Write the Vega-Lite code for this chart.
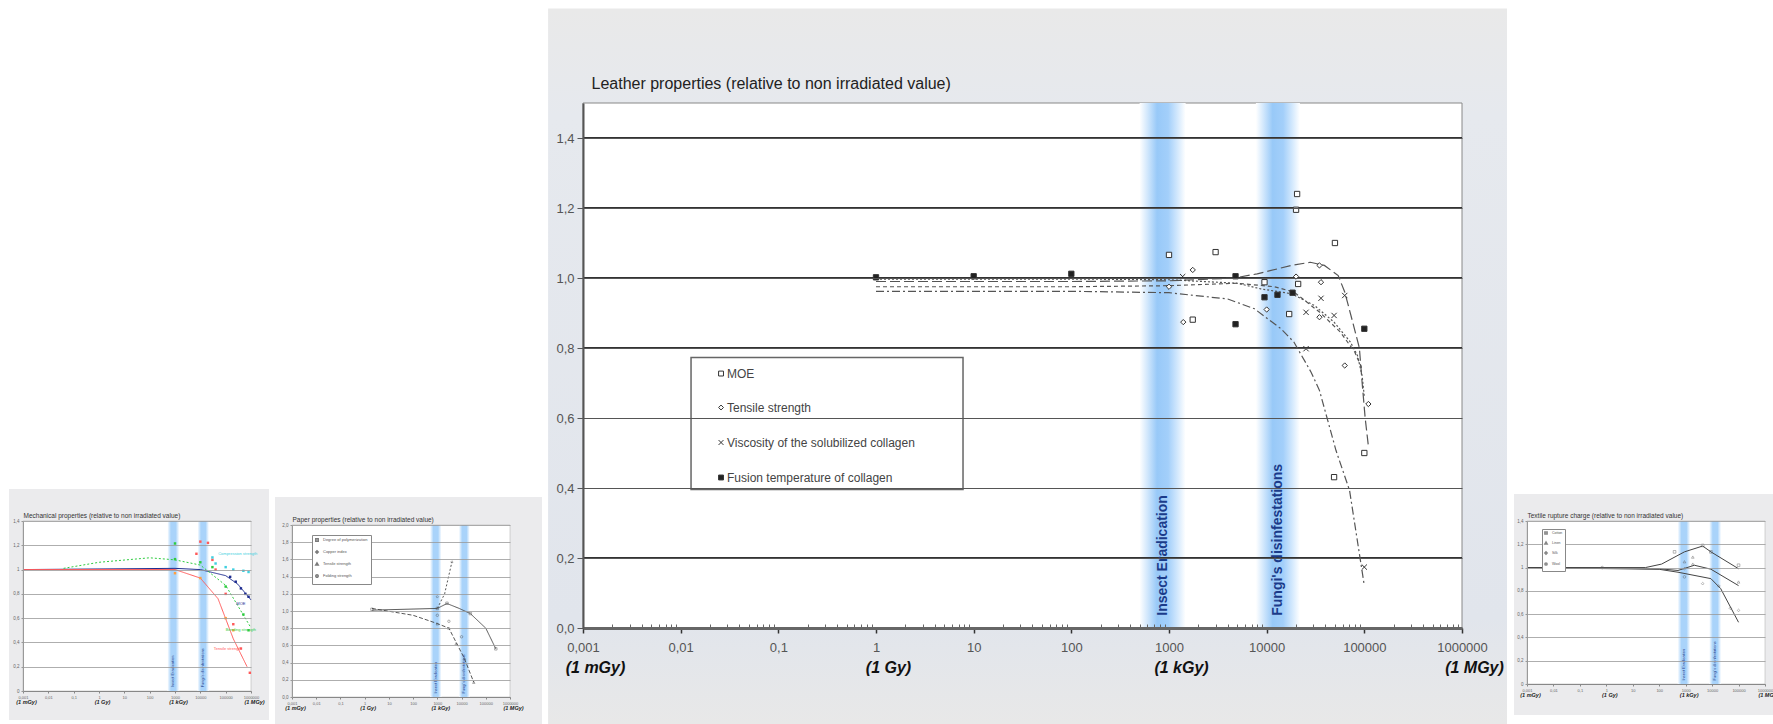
{
  "$schema": "https://vega.github.io/schema/vega-lite/v6.json",
  "background": "white",
  "padding": {"left": 8, "top": 8, "right": 0, "bottom": 0},
  "spacing": 5,
  "resolve": {
    "scale": {"color": "independent", "fill": "independent", "shape": "independent", "strokeDash": "independent"},
    "legend": {"color": "independent", "fill": "independent", "shape": "independent", "strokeDash": "independent"}
  },
  "config": {
    "view": {"stroke": null},
    "font": "Liberation Sans"
  },
  "datasets": {
    "bands": [
      {"zone": "Insect Eradication", "from": 500, "to": 1480, "center": 870},
      {"zone": "Fungi's disinfestations", "from": 7760, "to": 21900, "center": 13000}
    ],
    "thick": [{"v": 0.2}, {"v": 0.8}, {"v": 1.0}, {"v": 1.2}, {"v": 1.4}],
    "leatherLines": [
      {"series": "MOE", "dose": 1, "value": 0.99},
      {"series": "MOE", "dose": 100, "value": 0.99},
      {"series": "MOE", "dose": 1000, "value": 0.992},
      {"series": "MOE", "dose": 4700, "value": 1.0},
      {"series": "MOE", "dose": 8000, "value": 1.012},
      {"series": "MOE", "dose": 18000, "value": 1.036},
      {"series": "MOE", "dose": 28000, "value": 1.045},
      {"series": "MOE", "dose": 39000, "value": 1.036},
      {"series": "MOE", "dose": 54000, "value": 1.007},
      {"series": "MOE", "dose": 63000, "value": 0.96},
      {"series": "MOE", "dose": 76000, "value": 0.874},
      {"series": "MOE", "dose": 89000, "value": 0.8},
      {"series": "MOE", "dose": 95000, "value": 0.7},
      {"series": "MOE", "dose": 102000, "value": 0.6},
      {"series": "MOE", "dose": 110000, "value": 0.52},
      {"series": "Tensile strength", "dose": 1, "value": 0.997},
      {"series": "Tensile strength", "dose": 100, "value": 0.997},
      {"series": "Tensile strength", "dose": 1000, "value": 0.995},
      {"series": "Tensile strength", "dose": 5000, "value": 0.985},
      {"series": "Tensile strength", "dose": 8700, "value": 0.969},
      {"series": "Tensile strength", "dose": 18000, "value": 0.955},
      {"series": "Tensile strength", "dose": 31000, "value": 0.921},
      {"series": "Tensile strength", "dose": 49000, "value": 0.874},
      {"series": "Tensile strength", "dose": 72000, "value": 0.817},
      {"series": "Tensile strength", "dose": 85000, "value": 0.779},
      {"series": "Tensile strength", "dose": 95000, "value": 0.72},
      {"series": "Tensile strength", "dose": 100000, "value": 0.66},
      {"series": "Viscosity of the solubilized collagen", "dose": 1, "value": 0.962},
      {"series": "Viscosity of the solubilized collagen", "dose": 100, "value": 0.962},
      {"series": "Viscosity of the solubilized collagen", "dose": 1000, "value": 0.958},
      {"series": "Viscosity of the solubilized collagen", "dose": 4000, "value": 0.94},
      {"series": "Viscosity of the solubilized collagen", "dose": 7500, "value": 0.912},
      {"series": "Viscosity of the solubilized collagen", "dose": 14000, "value": 0.855},
      {"series": "Viscosity of the solubilized collagen", "dose": 19000, "value": 0.817},
      {"series": "Viscosity of the solubilized collagen", "dose": 28500, "value": 0.731},
      {"series": "Viscosity of the solubilized collagen", "dose": 34700, "value": 0.679},
      {"series": "Viscosity of the solubilized collagen", "dose": 51300, "value": 0.507},
      {"series": "Viscosity of the solubilized collagen", "dose": 70600, "value": 0.393},
      {"series": "Viscosity of the solubilized collagen", "dose": 89000, "value": 0.212},
      {"series": "Viscosity of the solubilized collagen", "dose": 100000, "value": 0.121},
      {"series": "Fusion temperature of collagen", "dose": 1, "value": 0.975},
      {"series": "Fusion temperature of collagen", "dose": 100, "value": 0.975},
      {"series": "Fusion temperature of collagen", "dose": 1000, "value": 0.978},
      {"series": "Fusion temperature of collagen", "dose": 5000, "value": 0.985},
      {"series": "Fusion temperature of collagen", "dose": 12000, "value": 0.975},
      {"series": "Fusion temperature of collagen", "dose": 19000, "value": 0.96},
      {"series": "Fusion temperature of collagen", "dose": 35000, "value": 0.902},
      {"series": "Fusion temperature of collagen", "dose": 57000, "value": 0.845},
      {"series": "Fusion temperature of collagen", "dose": 80000, "value": 0.788},
      {"series": "Fusion temperature of collagen", "dose": 95000, "value": 0.74}
    ],
    "leatherPoints": [
      {"series": "Fusion temperature of collagen", "dose": 1, "value": 1.002},
      {"series": "Fusion temperature of collagen", "dose": 10, "value": 1.005},
      {"series": "Fusion temperature of collagen", "dose": 100, "value": 1.012},
      {"series": "Fusion temperature of collagen", "dose": 4800, "value": 1.005},
      {"series": "Fusion temperature of collagen", "dose": 4800, "value": 0.868},
      {"series": "Fusion temperature of collagen", "dose": 9500, "value": 0.945},
      {"series": "Fusion temperature of collagen", "dose": 12900, "value": 0.952},
      {"series": "Fusion temperature of collagen", "dose": 18400, "value": 0.958},
      {"series": "Fusion temperature of collagen", "dose": 100000, "value": 0.855},
      {"series": "MOE", "dose": 1000, "value": 1.066},
      {"series": "MOE", "dose": 3000, "value": 1.074},
      {"series": "MOE", "dose": 20500, "value": 1.24},
      {"series": "MOE", "dose": 20000, "value": 1.195},
      {"series": "MOE", "dose": 50000, "value": 1.1},
      {"series": "MOE", "dose": 17000, "value": 0.897},
      {"series": "MOE", "dose": 9500, "value": 0.988},
      {"series": "MOE", "dose": 21000, "value": 0.983},
      {"series": "MOE", "dose": 1750, "value": 0.881},
      {"series": "MOE", "dose": 100000, "value": 0.5},
      {"series": "MOE", "dose": 49000, "value": 0.431},
      {"series": "Tensile strength", "dose": 1750, "value": 1.023},
      {"series": "Tensile strength", "dose": 1400, "value": 0.874},
      {"series": "Tensile strength", "dose": 20000, "value": 1.004},
      {"series": "Tensile strength", "dose": 36000, "value": 0.988},
      {"series": "Tensile strength", "dose": 34700, "value": 1.036},
      {"series": "Tensile strength", "dose": 10000, "value": 0.91},
      {"series": "Tensile strength", "dose": 34700, "value": 0.888},
      {"series": "Tensile strength", "dose": 1000, "value": 0.975},
      {"series": "Tensile strength", "dose": 63000, "value": 0.75},
      {"series": "Tensile strength", "dose": 110000, "value": 0.64},
      {"series": "Viscosity of the solubilized collagen", "dose": 25300, "value": 0.902},
      {"series": "Viscosity of the solubilized collagen", "dose": 49000, "value": 0.893},
      {"series": "Viscosity of the solubilized collagen", "dose": 25300, "value": 0.798},
      {"series": "Viscosity of the solubilized collagen", "dose": 63000, "value": 0.95},
      {"series": "Viscosity of the solubilized collagen", "dose": 100000, "value": 0.174},
      {"series": "Viscosity of the solubilized collagen", "dose": 36000, "value": 0.942},
      {"series": "Viscosity of the solubilized collagen", "dose": 1380, "value": 1.004}
    ],
    "mechLines": [
      {"series": "MOE", "dose": 0.001, "value": 1.0},
      {"series": "MOE", "dose": 1000, "value": 1.01},
      {"series": "MOE", "dose": 10000, "value": 1.0},
      {"series": "MOE", "dose": 100000, "value": 0.95},
      {"series": "MOE", "dose": 300000, "value": 0.88},
      {"series": "MOE", "dose": 1000000, "value": 0.75},
      {"series": "Bending strength", "dose": 0.04, "value": 1.01},
      {"series": "Bending strength", "dose": 1, "value": 1.06},
      {"series": "Bending strength", "dose": 100, "value": 1.097},
      {"series": "Bending strength", "dose": 1000, "value": 1.08},
      {"series": "Bending strength", "dose": 10000, "value": 1.037},
      {"series": "Bending strength", "dose": 100000, "value": 0.87},
      {"series": "Bending strength", "dose": 1000000, "value": 0.52},
      {"series": "Tensile strength", "dose": 0.001, "value": 1.0},
      {"series": "Tensile strength", "dose": 1000, "value": 1.0},
      {"series": "Tensile strength", "dose": 10000, "value": 0.93},
      {"series": "Tensile strength", "dose": 50000, "value": 0.76},
      {"series": "Tensile strength", "dose": 200000, "value": 0.43},
      {"series": "Tensile strength", "dose": 700000, "value": 0.2}
    ],
    "mechPoints": [
      {"series": "Bending strength", "dose": 1000, "value": 1.215},
      {"series": "Bending strength", "dose": 1000, "value": 1.086},
      {"series": "Bending strength", "dose": 10000, "value": 1.06},
      {"series": "Bending strength", "dose": 30000, "value": 1.02},
      {"series": "Bending strength", "dose": 100000, "value": 0.86},
      {"series": "Bending strength", "dose": 500000, "value": 0.63},
      {"series": "Bending strength", "dose": 800000, "value": 0.5},
      {"series": "Tensile strength", "dose": 10000, "value": 1.23},
      {"series": "Tensile strength", "dose": 20000, "value": 1.22},
      {"series": "Tensile strength", "dose": 7000, "value": 1.13},
      {"series": "Tensile strength", "dose": 30000, "value": 1.08},
      {"series": "Tensile strength", "dose": 40000, "value": 1.0},
      {"series": "Tensile strength", "dose": 100000, "value": 0.8},
      {"series": "Tensile strength", "dose": 200000, "value": 0.55},
      {"series": "Tensile strength", "dose": 400000, "value": 0.35},
      {"series": "Tensile strength", "dose": 900000, "value": 0.15},
      {"series": "Compression strength", "dose": 30000, "value": 1.1},
      {"series": "Compression strength", "dose": 40000, "value": 1.05},
      {"series": "Compression strength", "dose": 100000, "value": 1.02},
      {"series": "Compression strength", "dose": 200000, "value": 1.0},
      {"series": "Compression strength", "dose": 500000, "value": 0.99},
      {"series": "Compression strength", "dose": 800000, "value": 0.98},
      {"series": "MOE", "dose": 150000, "value": 0.94},
      {"series": "MOE", "dose": 250000, "value": 0.9},
      {"series": "MOE", "dose": 400000, "value": 0.845},
      {"series": "MOE", "dose": 600000, "value": 0.8},
      {"series": "MOE", "dose": 800000, "value": 0.776},
      {"series": "Other", "dose": 1000, "value": 0.97},
      {"series": "Other", "dose": 10000, "value": 0.93},
      {"series": "Other", "dose": 100000, "value": 0.6},
      {"series": "Other", "dose": 200000, "value": 0.5}
    ],
    "mechLabels": [
      {"series": "Compression strength", "dose": 300000, "value": 1.13, "label": "Compression strength"},
      {"series": "MOE", "dose": 400000, "value": 0.72, "label": "MOE"},
      {"series": "Bending strength", "dose": 400000, "value": 0.5, "label": "Bending strength"},
      {"series": "Tensile strength", "dose": 120000, "value": 0.35, "label": "Tensile strength"}
    ],
    "paperLines": [
      {"series": "Degree of polymerization", "dose": 2, "value": 1.01},
      {"series": "Degree of polymerization", "dose": 1000, "value": 1.03},
      {"series": "Degree of polymerization", "dose": 2500, "value": 1.087},
      {"series": "Degree of polymerization", "dose": 8000, "value": 1.03},
      {"series": "Degree of polymerization", "dose": 23000, "value": 0.97},
      {"series": "Degree of polymerization", "dose": 100000, "value": 0.8},
      {"series": "Degree of polymerization", "dose": 260000, "value": 0.56},
      {"series": "Copper index", "dose": 1000, "value": 1.03},
      {"series": "Copper index", "dose": 2000, "value": 1.2},
      {"series": "Copper index", "dose": 4000, "value": 1.57},
      {"series": "Tensile strength", "dose": 2, "value": 1.03},
      {"series": "Tensile strength", "dose": 100, "value": 0.95},
      {"series": "Tensile strength", "dose": 1000, "value": 0.854},
      {"series": "Tensile strength", "dose": 3000, "value": 0.8},
      {"series": "Tensile strength", "dose": 13000, "value": 0.45},
      {"series": "Tensile strength", "dose": 32000, "value": 0.17}
    ],
    "paperPoints": [
      {"series": "Degree of polymerization", "dose": 2, "value": 1.02},
      {"series": "Degree of polymerization", "dose": 1000, "value": 1.03},
      {"series": "Degree of polymerization", "dose": 2500, "value": 1.09},
      {"series": "Degree of polymerization", "dose": 23000, "value": 0.97},
      {"series": "Degree of polymerization", "dose": 260000, "value": 0.56},
      {"series": "Copper index", "dose": 1000, "value": 1.165},
      {"series": "Copper index", "dose": 4000, "value": 1.57},
      {"series": "Tensile strength", "dose": 1000, "value": 0.85},
      {"series": "Tensile strength", "dose": 3000, "value": 0.8},
      {"series": "Tensile strength", "dose": 6000, "value": 0.62},
      {"series": "Tensile strength", "dose": 13000, "value": 0.45},
      {"series": "Tensile strength", "dose": 32000, "value": 0.17},
      {"series": "Folding strength", "dose": 1000, "value": 0.95},
      {"series": "Folding strength", "dose": 3000, "value": 0.88},
      {"series": "Folding strength", "dose": 10000, "value": 0.7}
    ],
    "texLines": [
      {"series": "Cotton", "dose": 0.001, "value": 1.0},
      {"series": "Cotton", "dose": 30, "value": 1.0},
      {"series": "Cotton", "dose": 123, "value": 1.03},
      {"series": "Cotton", "dose": 900, "value": 1.135},
      {"series": "Cotton", "dose": 4400, "value": 1.185},
      {"series": "Cotton", "dose": 9000, "value": 1.135},
      {"series": "Cotton", "dose": 100000, "value": 0.99},
      {"series": "Linen", "dose": 0.001, "value": 1.0},
      {"series": "Linen", "dose": 100, "value": 0.99},
      {"series": "Linen", "dose": 513, "value": 0.975},
      {"series": "Linen", "dose": 2140, "value": 1.02},
      {"series": "Linen", "dose": 9000, "value": 0.986},
      {"series": "Linen", "dose": 100000, "value": 0.845},
      {"series": "Silk", "dose": 0.001, "value": 1.0},
      {"series": "Silk", "dose": 100, "value": 0.985},
      {"series": "Silk", "dose": 513, "value": 0.96},
      {"series": "Silk", "dose": 9000, "value": 0.905},
      {"series": "Silk", "dose": 21000, "value": 0.82},
      {"series": "Silk", "dose": 100000, "value": 0.53}
    ],
    "texPoints": [
      {"series": "Cotton", "dose": 380, "value": 1.135},
      {"series": "Cotton", "dose": 4400, "value": 1.19},
      {"series": "Cotton", "dose": 9000, "value": 1.135},
      {"series": "Cotton", "dose": 100000, "value": 1.02},
      {"series": "Linen", "dose": 900, "value": 1.05},
      {"series": "Linen", "dose": 1860, "value": 1.09},
      {"series": "Linen", "dose": 1860, "value": 1.03},
      {"series": "Linen", "dose": 100000, "value": 0.876},
      {"series": "Silk", "dose": 900, "value": 0.99},
      {"series": "Silk", "dose": 4400, "value": 0.862},
      {"series": "Silk", "dose": 18000, "value": 0.842},
      {"series": "Silk", "dose": 49000, "value": 0.65},
      {"series": "Silk", "dose": 100000, "value": 0.632},
      {"series": "Wool", "dose": 900, "value": 0.92},
      {"series": "Wool", "dose": 0.7, "value": 1.0}
    ]
  },
  "hconcat": [
    {
      "spacing": 0,
      "resolve": {"scale": {"color": "independent", "fill": "independent", "shape": "independent", "strokeDash": "independent"}, "legend": {"color": "independent", "fill": "independent", "shape": "independent", "strokeDash": "independent"}},
      "vconcat": [
        {"width": 10, "height": 385, "data": {"values": [{"t": ""}]}, "mark": "text", "encoding": {"text": {"field": "t"}}},
        {
          "width": 228, "height": 170,
          "layer": [
            {"data": {"values": [{"panel": "frame"}]}, "mark": {"type": "rect", "fill": "#ebebed"},
             "encoding": {"x": {"datum": 0.00028, "type": "quantitative", "scale": {"type": "log", "domain": [0.001, 1000000], "nice": false}, "axis": null}, "x2": {"datum": 5140000}, "y": {"datum": -0.239, "type": "quantitative", "scale": {"domain": [0, 1.4], "nice": false, "zero": false}, "axis": null}, "y2": {"datum": 1.664}}},
            {"data": {"values": [{"panel": "plot"}]}, "mark": {"type": "rect", "fill": "white", "stroke": "#aaa", "strokeWidth": 0.5},
             "encoding": {"x": {"datum": 0.001, "type": "quantitative", "scale": {"type": "log", "domain": [0.001, 1000000], "nice": false},
               "axis": {"orient": "bottom", "zindex": 1, "values": [0.001, 0.01, 0.1, 1, 10, 100, 1000, 10000, 100000, 1000000], "labelExpr": "datum.value == 0.001 ? '0,001' : datum.value == 0.01 ? '0,01' : datum.value == 0.1 ? '0,1' : format(datum.value, 'd')", "title": null, "grid": false, "domainColor": "#888", "domainWidth": 1, "tickSize": 2, "tickColor": "#888", "labelFontSize": 4, "labelColor": "#666", "labelPadding": 2, "labelFlush": false, "labelOverlap": false}},
               "x2": {"datum": 1000000},
               "y": {"datum": 0, "type": "quantitative", "scale": {"domain": [0, 1.4], "nice": false, "zero": false},
               "axis": {"orient": "left", "zindex": 1, "values": [0, 0.2, 0.4, 0.6, 0.8, 1, 1.2, 1.4], "labelExpr": "replace(format(datum.value, '~g'), '.', ',')", "title": null, "grid": true, "gridColor": "#999", "gridWidth": 0.8, "domainColor": "#999", "tickSize": 2, "tickColor": "#999", "labelFontSize": 4.5, "labelColor": "#666", "labelPadding": 2}},
               "y2": {"datum": 1.4}}},
            {"data": {"name": "bands"}, "mark": {"type": "rect", "fill": {"gradient": "linear", "x1": 0, "y1": 0, "x2": 1, "y2": 0, "stops": [{"offset": 0, "color": "#ffffff"}, {"offset": 0.3, "color": "#a9d3fa"}, {"offset": 0.7, "color": "#a9d3fa"}, {"offset": 1, "color": "#ffffff"}]}},
             "encoding": {"x": {"field": "from", "type": "quantitative", "scale": {"type": "log", "domain": [0.001, 1000000], "nice": false}, "axis": null}, "x2": {"field": "to"}, "y": {"datum": 0, "type": "quantitative", "scale": {"domain": [0, 1.4], "nice": false, "zero": false}, "axis": null}, "y2": {"datum": 1.4}}},
            {"data": {"name": "mechLines"}, "mark": {"type": "line", "strokeWidth": 1},
             "encoding": {"x": {"field": "dose", "type": "quantitative", "scale": {"type": "log", "domain": [0.001, 1000000], "nice": false},
               "axis": {"orient": "top", "zindex": 1, "labels": false, "ticks": false, "domain": false, "grid": false, "title": "Mechanical properties (relative to non irradiated value)", "titleAnchor": "start", "titleAlign": "left", "titleFontSize": 6.5, "titleFontWeight": "normal", "titleColor": "#333", "titlePadding": 3}},
               "y": {"field": "value", "type": "quantitative", "scale": {"domain": [0, 1.4], "nice": false, "zero": false}, "axis": null},
               "color": {"field": "series", "type": "nominal", "scale": {"domain": ["MOE", "Bending strength", "Tensile strength", "Compression strength", "Other"], "range": ["#1c2b8f", "#2ecc40", "#ff5a5a", "#40d0e0", "#ff9f40"]}, "legend": null},
               "strokeDash": {"field": "series", "type": "nominal", "scale": {"domain": ["MOE", "Bending strength", "Tensile strength"], "range": [[1, 0], [2, 2], [1, 0]]}, "legend": null}}},
            {"data": {"name": "mechPoints"}, "mark": {"type": "square", "size": 6, "opacity": 1},
             "encoding": {"x": {"field": "dose", "type": "quantitative", "scale": {"type": "log", "domain": [0.001, 1000000], "nice": false}, "axis": null}, "y": {"field": "value", "type": "quantitative", "scale": {"domain": [0, 1.4], "nice": false, "zero": false}, "axis": null},
               "color": {"field": "series", "type": "nominal", "scale": {"domain": ["MOE", "Bending strength", "Tensile strength", "Compression strength", "Other"], "range": ["#1c2b8f", "#2ecc40", "#ff5a5a", "#40d0e0", "#ff9f40"]}, "legend": null}}},
            {"data": {"name": "mechLabels"}, "mark": {"type": "text", "fontSize": 4, "align": "center"},
             "encoding": {"x": {"field": "dose", "type": "quantitative", "scale": {"type": "log", "domain": [0.001, 1000000], "nice": false}, "axis": null}, "y": {"field": "value", "type": "quantitative", "scale": {"domain": [0, 1.4], "nice": false, "zero": false}, "axis": null}, "text": {"field": "label"},
               "color": {"field": "series", "type": "nominal", "scale": {"domain": ["MOE", "Bending strength", "Tensile strength", "Compression strength", "Other"], "range": ["#1c2b8f", "#2ecc40", "#ff5a5a", "#40d0e0", "#ff9f40"]}, "legend": null}}},
            {"data": {"name": "bands"}, "mark": {"type": "text", "angle": 270, "align": "left", "baseline": "middle", "fontSize": 4, "color": "#1b3b8a"},
             "encoding": {"x": {"field": "center", "type": "quantitative", "scale": {"type": "log", "domain": [0.001, 1000000], "nice": false},
               "axis": {"orient": "bottom", "zindex": 1, "values": [0.001, 1, 1000, 1000000], "labelExpr": "datum.value == 0.001 ? '(1 mGy)' : datum.value == 1 ? '(1 Gy)' : datum.value == 1000 ? '(1 kGy)' : '(1 MGy)'", "title": null, "domain": false, "ticks": false, "tickSize": 0, "grid": false, "labelFontSize": 5.5, "labelFontWeight": "bold", "labelFontStyle": "italic", "labelColor": "#222", "labelPadding": 8, "labelOffset": 3, "labelFlush": false, "labelOverlap": false}},
               "y": {"datum": 0.03, "type": "quantitative", "scale": {"domain": [0, 1.4], "nice": false, "zero": false}, "axis": null}, "text": {"field": "zone"}}}
          ],
          "resolve": {"axis": {"x": "independent", "y": "independent"}}
        }
      ]
    },
    {
      "spacing": 0,
      "resolve": {"scale": {"color": "independent", "fill": "independent", "shape": "independent", "strokeDash": "independent"}, "legend": {"color": "independent", "fill": "independent", "shape": "independent", "strokeDash": "independent"}},
      "vconcat": [
        {"width": 10, "height": 393, "data": {"values": [{"t": ""}]}, "mark": "text", "encoding": {"text": {"field": "t"}}},
        {
          "width": 218, "height": 172,
          "layer": [
            {"data": {"values": [{"panel": "frame"}]}, "mark": {"type": "rect", "fill": "#ebebed"},
             "encoding": {"x": {"datum": 0.000199, "type": "quantitative", "scale": {"type": "log", "domain": [0.001, 1000000], "nice": false}, "axis": null}, "x2": {"datum": 21000000}, "y": {"datum": -0.337, "type": "quantitative", "scale": {"domain": [0, 2], "nice": false, "zero": false}, "axis": null}, "y2": {"datum": 2.326}}},
            {"data": {"values": [{"panel": "plot"}]}, "mark": {"type": "rect", "fill": "white", "stroke": "#aaa", "strokeWidth": 0.5},
             "encoding": {"x": {"datum": 0.001, "type": "quantitative", "scale": {"type": "log", "domain": [0.001, 1000000], "nice": false},
               "axis": {"orient": "bottom", "zindex": 1, "values": [0.001, 0.01, 0.1, 1, 10, 100, 1000, 10000, 100000, 1000000], "labelExpr": "datum.value == 0.001 ? '0,001' : datum.value == 0.01 ? '0,01' : datum.value == 0.1 ? '0,1' : format(datum.value, 'd')", "title": null, "grid": false, "domainColor": "#888", "domainWidth": 1, "tickSize": 2, "tickColor": "#888", "labelFontSize": 4, "labelColor": "#666", "labelPadding": 2, "labelFlush": false, "labelOverlap": false}},
               "x2": {"datum": 1000000},
               "y": {"datum": 0, "type": "quantitative", "scale": {"domain": [0, 2], "nice": false, "zero": false},
               "axis": {"orient": "left", "zindex": 1, "values": [0, 0.2, 0.4, 0.6, 0.8, 1, 1.2, 1.4, 1.6, 1.8, 2], "labelExpr": "replace(format(datum.value, '.1f'), '.', ',')", "title": null, "grid": true, "gridColor": "#999", "gridWidth": 0.8, "domainColor": "#999", "tickSize": 2, "tickColor": "#999", "labelFontSize": 4.5, "labelColor": "#666", "labelPadding": 2}},
               "y2": {"datum": 2}}},
            {"data": {"name": "bands"}, "mark": {"type": "rect", "fill": {"gradient": "linear", "x1": 0, "y1": 0, "x2": 1, "y2": 0, "stops": [{"offset": 0, "color": "#ffffff"}, {"offset": 0.3, "color": "#a9d3fa"}, {"offset": 0.7, "color": "#a9d3fa"}, {"offset": 1, "color": "#ffffff"}]}},
             "encoding": {"x": {"field": "from", "type": "quantitative", "scale": {"type": "log", "domain": [0.001, 1000000], "nice": false}, "axis": null}, "x2": {"field": "to"}, "y": {"datum": 0, "type": "quantitative", "scale": {"domain": [0, 2], "nice": false, "zero": false}, "axis": null}, "y2": {"datum": 2}}},
            {"data": {"name": "paperLines"}, "mark": {"type": "line", "strokeWidth": 0.9, "color": "#444"},
             "encoding": {"x": {"field": "dose", "type": "quantitative", "scale": {"type": "log", "domain": [0.001, 1000000], "nice": false},
               "axis": {"orient": "top", "zindex": 1, "labels": false, "ticks": false, "domain": false, "grid": false, "title": "Paper properties (relative to non irradiated value)", "titleAnchor": "start", "titleAlign": "left", "titleFontSize": 6.5, "titleFontWeight": "normal", "titleColor": "#333", "titlePadding": 3}},
               "y": {"field": "value", "type": "quantitative", "scale": {"domain": [0, 2], "nice": false, "zero": false}, "axis": null},
               "strokeDash": {"field": "series", "type": "nominal", "scale": {"domain": ["Degree of polymerization", "Copper index", "Tensile strength"], "range": [[1, 0], [2, 2], [4, 2]]}, "legend": null}}},
            {"data": {"name": "paperPoints"}, "mark": {"type": "point", "size": 6, "stroke": "#444", "strokeWidth": 0.6, "filled": false},
             "encoding": {"x": {"field": "dose", "type": "quantitative", "scale": {"type": "log", "domain": [0.001, 1000000], "nice": false}, "axis": null}, "y": {"field": "value", "type": "quantitative", "scale": {"domain": [0, 2], "nice": false, "zero": false}, "axis": null},
               "shape": {"field": "series", "type": "nominal", "scale": {"domain": ["Degree of polymerization", "Copper index", "Tensile strength", "Folding strength"], "range": ["square", "diamond", "triangle-up", "circle"]},
                 "legend": {"title": null, "orient": "none", "zindex": 1, "legendX": 20, "legendY": 10, "fillColor": "white", "strokeColor": "#888", "padding": 3, "rowPadding": 2, "labelFontSize": 4, "labelColor": "#555", "symbolSize": 6, "symbolStrokeColor": "#444"}}}},
            {"data": {"name": "bands"}, "mark": {"type": "text", "angle": 270, "align": "left", "baseline": "middle", "fontSize": 4, "color": "#1b3b8a"},
             "encoding": {"x": {"field": "center", "type": "quantitative", "scale": {"type": "log", "domain": [0.001, 1000000], "nice": false},
               "axis": {"orient": "bottom", "zindex": 1, "values": [0.001, 1, 1000, 1000000], "labelExpr": "datum.value == 0.001 ? '(1 mGy)' : datum.value == 1 ? '(1 Gy)' : datum.value == 1000 ? '(1 kGy)' : '(1 MGy)'", "title": null, "domain": false, "ticks": false, "tickSize": 0, "grid": false, "labelFontSize": 5.5, "labelFontWeight": "bold", "labelFontStyle": "italic", "labelColor": "#222", "labelPadding": 8, "labelOffset": 3, "labelFlush": false, "labelOverlap": false}},
               "y": {"datum": 0.04, "type": "quantitative", "scale": {"domain": [0, 2], "nice": false, "zero": false}, "axis": null}, "text": {"field": "zone"}}}
          ],
          "resolve": {"axis": {"x": "independent", "y": "independent"}}
        }
      ]
    },
    {
      "width": 879, "height": 525,
      "layer": [
        {"data": {"values": [{"panel": "frame"}]},
         "mark": {"type": "rect", "fill": {"gradient": "linear", "x1": 0, "y1": 0, "x2": 0, "y2": 1, "stops": [{"offset": 0, "color": "#e9e9e9"}, {"offset": 0.15, "color": "#e6e9ee"}, {"offset": 0.85, "color": "#e1e5ec"}, {"offset": 1, "color": "#e8e8e8"}]}},
         "encoding": {"x": {"datum": 0.000439, "type": "quantitative", "scale": {"type": "log", "domain": [0.001, 1000000], "nice": false}, "axis": null}, "x2": {"datum": 2890000}, "y": {"datum": -0.276, "type": "quantitative", "scale": {"domain": [0, 1.5], "nice": false, "zero": false}, "axis": null}, "y2": {"datum": 1.77}}},
        {"data": {"values": [{"panel": "plot"}]},
         "mark": {"type": "rect", "fill": "white", "stroke": "#888", "strokeWidth": 1},
         "encoding": {
           "x": {"datum": 0.001, "type": "quantitative", "scale": {"type": "log", "domain": [0.001, 1000000], "nice": false},
             "axis": {"orient": "bottom", "zindex": 1, "values": [0.001, 0.01, 0.1, 1, 10, 100, 1000, 10000, 100000, 1000000], "labelExpr": "datum.value == 0.001 ? '0,001' : datum.value == 0.01 ? '0,01' : datum.value == 0.1 ? '0,1' : format(datum.value, 'd')", "title": null, "grid": false, "domain": true, "domainColor": "#666", "domainWidth": 3, "ticks": true, "tickSize": 5, "tickColor": "#333", "tickWidth": 1.5, "labelFontSize": 13, "labelColor": "#555", "labelPadding": 8, "labelFlush": false, "labelOverlap": false}},
           "x2": {"datum": 1000000},
           "y": {"datum": 0, "type": "quantitative", "scale": {"domain": [0, 1.5], "nice": false, "zero": false},
             "axis": {"orient": "left", "zindex": 1, "values": [0, 0.2, 0.4, 0.6, 0.8, 1, 1.2, 1.4], "labelExpr": "replace(format(datum.value, '.1f'), '.', ',')", "title": null, "grid": true, "gridColor": "#555", "gridWidth": 1, "domain": true, "domainColor": "#555", "domainWidth": 2, "tickSize": 6, "tickColor": "#555", "labelFontSize": 13, "labelColor": "#555", "labelPadding": 3}},
           "y2": {"datum": 1.5}}},
        {"data": {"name": "bands"},
         "mark": {"type": "rect", "fill": {"gradient": "linear", "x1": 0, "y1": 0, "x2": 1, "y2": 0, "stops": [{"offset": 0, "color": "#ffffff"}, {"offset": 0.18, "color": "#cfe6fc"}, {"offset": 0.38, "color": "#98c9f8"}, {"offset": 0.62, "color": "#a3cffa"}, {"offset": 0.82, "color": "#d2e8fd"}, {"offset": 1, "color": "#ffffff"}]}},
         "encoding": {
           "x": {"field": "from", "type": "quantitative", "scale": {"type": "log", "domain": [0.001, 1000000], "nice": false},
             "axis": {"orient": "bottom", "zindex": 1, "values": [0.002, 0.003, 0.004, 0.005, 0.006, 0.007, 0.008, 0.009, 0.02, 0.03, 0.04, 0.05, 0.06, 0.07, 0.08, 0.09, 0.2, 0.3, 0.4, 0.5, 0.6, 0.7, 0.8, 0.9, 2, 3, 4, 5, 6, 7, 8, 9, 20, 30, 40, 50, 60, 70, 80, 90, 200, 300, 400, 500, 600, 700, 800, 900, 2000, 3000, 4000, 5000, 6000, 7000, 8000, 9000, 20000, 30000, 40000, 50000, 60000, 70000, 80000, 90000, 200000, 300000, 400000, 500000, 600000, 700000, 800000, 900000], "labels": false, "domain": false, "grid": false, "ticks": true, "tickSize": -4, "tickColor": "#666", "tickWidth": 1, "title": null}},
           "x2": {"field": "to"},
           "y": {"datum": 0, "type": "quantitative", "scale": {"domain": [0, 1.5], "nice": false, "zero": false}, "axis": null},
           "y2": {"datum": 1.5}}},
        {"data": {"name": "thick"},
         "mark": {"type": "rule", "color": "#333", "strokeWidth": 2},
         "encoding": {"y": {"field": "v", "type": "quantitative", "scale": {"domain": [0, 1.5], "nice": false, "zero": false}, "axis": null}}},
        {"data": {"name": "leatherLines"},
         "mark": {"type": "line", "color": "#555", "strokeWidth": 1.2},
         "encoding": {
           "x": {"field": "dose", "type": "quantitative", "scale": {"type": "log", "domain": [0.001, 1000000], "nice": false},
             "axis": {"orient": "top", "zindex": 1, "labels": false, "ticks": false, "domain": false, "grid": false, "title": "Leather properties (relative to non irradiated value)", "titleAnchor": "start", "titleAlign": "left", "titleFontSize": 16, "titleFontWeight": "normal", "titleColor": "#222", "titlePadding": 12, "titleX": 8}},
           "y": {"field": "value", "type": "quantitative", "scale": {"domain": [0, 1.5], "nice": false, "zero": false}, "axis": null},
           "strokeDash": {"field": "series", "type": "nominal", "scale": {"domain": ["MOE", "Tensile strength", "Viscosity of the solubilized collagen", "Fusion temperature of collagen"], "range": [[10, 4], [2, 2], [8, 3, 2, 3], [4, 3]]}, "legend": null}}},
        {"data": {"name": "leatherPoints"},
         "mark": {"type": "point", "filled": true, "stroke": "#333", "strokeWidth": 1, "size": 28, "opacity": 1},
         "encoding": {
           "x": {"field": "dose", "type": "quantitative", "scale": {"type": "log", "domain": [0.001, 1000000], "nice": false}, "axis": null},
           "y": {"field": "value", "type": "quantitative", "scale": {"domain": [0, 1.5], "nice": false, "zero": false}, "axis": null},
           "shape": {"field": "series", "type": "nominal", "scale": {"domain": ["MOE", "Tensile strength", "Viscosity of the solubilized collagen", "Fusion temperature of collagen"], "range": ["square", "diamond", "M-1,-1L1,1M-1,1L1,-1", "square"]}, "legend": null},
           "fill": {"field": "series", "type": "nominal", "scale": {"domain": ["MOE", "Tensile strength", "Viscosity of the solubilized collagen", "Fusion temperature of collagen"], "range": ["#ffffff", "#ffffff", "#ffffff", "#222222"]}, "legend": null}}},
        {"data": {"values": [{"panel": "legend"}]},
         "mark": {"type": "rect", "fill": "white", "stroke": "#666", "strokeWidth": 1.5},
         "encoding": {"x": {"datum": 0.01277, "type": "quantitative", "scale": {"type": "log", "domain": [0.001, 1000000], "nice": false}, "axis": null}, "x2": {"datum": 7.78}, "y": {"datum": 0.396, "type": "quantitative", "scale": {"domain": [0, 1.5], "nice": false, "zero": false}, "axis": null}, "y2": {"datum": 0.773}}},
        {"data": {"values": [{"series": "MOE"}]},
         "mark": {"type": "point", "filled": true, "stroke": "#333", "strokeWidth": 1, "size": 24, "opacity": 1},
         "encoding": {"x": {"datum": 0.0259, "type": "quantitative", "scale": {"type": "log", "domain": [0.001, 1000000], "nice": false}, "axis": null}, "y": {"datum": 0.727, "type": "quantitative", "scale": {"domain": [0, 1.5], "nice": false, "zero": false}, "axis": null},
           "shape": {"field": "series", "type": "nominal", "scale": {"domain": ["MOE", "Tensile strength", "Viscosity of the solubilized collagen", "Fusion temperature of collagen"], "range": ["square", "diamond", "M-1,-1L1,1M-1,1L1,-1", "square"]}, "legend": null},
           "fill": {"field": "series", "type": "nominal", "scale": {"domain": ["MOE", "Tensile strength", "Viscosity of the solubilized collagen", "Fusion temperature of collagen"], "range": ["#ffffff", "#ffffff", "#ffffff", "#222222"]}, "legend": null}}},
        {"data": {"values": [{"series": "Tensile strength"}]},
         "mark": {"type": "point", "filled": true, "stroke": "#333", "strokeWidth": 1, "size": 24, "opacity": 1},
         "encoding": {"x": {"datum": 0.0259, "type": "quantitative", "scale": {"type": "log", "domain": [0.001, 1000000], "nice": false}, "axis": null}, "y": {"datum": 0.630, "type": "quantitative", "scale": {"domain": [0, 1.5], "nice": false, "zero": false}, "axis": null},
           "shape": {"field": "series", "type": "nominal", "scale": {"domain": ["MOE", "Tensile strength", "Viscosity of the solubilized collagen", "Fusion temperature of collagen"], "range": ["square", "diamond", "M-1,-1L1,1M-1,1L1,-1", "square"]}, "legend": null},
           "fill": {"field": "series", "type": "nominal", "scale": {"domain": ["MOE", "Tensile strength", "Viscosity of the solubilized collagen", "Fusion temperature of collagen"], "range": ["#ffffff", "#ffffff", "#ffffff", "#222222"]}, "legend": null}}},
        {"data": {"values": [{"series": "Viscosity of the solubilized collagen"}]},
         "mark": {"type": "point", "filled": true, "stroke": "#333", "strokeWidth": 1, "size": 24, "opacity": 1},
         "encoding": {"x": {"datum": 0.0259, "type": "quantitative", "scale": {"type": "log", "domain": [0.001, 1000000], "nice": false}, "axis": null}, "y": {"datum": 0.530, "type": "quantitative", "scale": {"domain": [0, 1.5], "nice": false, "zero": false}, "axis": null},
           "shape": {"field": "series", "type": "nominal", "scale": {"domain": ["MOE", "Tensile strength", "Viscosity of the solubilized collagen", "Fusion temperature of collagen"], "range": ["square", "diamond", "M-1,-1L1,1M-1,1L1,-1", "square"]}, "legend": null},
           "fill": {"field": "series", "type": "nominal", "scale": {"domain": ["MOE", "Tensile strength", "Viscosity of the solubilized collagen", "Fusion temperature of collagen"], "range": ["#ffffff", "#ffffff", "#ffffff", "#222222"]}, "legend": null}}},
        {"data": {"values": [{"series": "Fusion temperature of collagen"}]},
         "mark": {"type": "point", "filled": true, "stroke": "#333", "strokeWidth": 1, "size": 24, "opacity": 1},
         "encoding": {"x": {"datum": 0.0259, "type": "quantitative", "scale": {"type": "log", "domain": [0.001, 1000000], "nice": false}, "axis": null}, "y": {"datum": 0.430, "type": "quantitative", "scale": {"domain": [0, 1.5], "nice": false, "zero": false}, "axis": null},
           "shape": {"field": "series", "type": "nominal", "scale": {"domain": ["MOE", "Tensile strength", "Viscosity of the solubilized collagen", "Fusion temperature of collagen"], "range": ["square", "diamond", "M-1,-1L1,1M-1,1L1,-1", "square"]}, "legend": null},
           "fill": {"field": "series", "type": "nominal", "scale": {"domain": ["MOE", "Tensile strength", "Viscosity of the solubilized collagen", "Fusion temperature of collagen"], "range": ["#ffffff", "#ffffff", "#ffffff", "#222222"]}, "legend": null}}},
        {"data": {"values": [{"series": "MOE"}]},
         "mark": {"type": "text", "align": "left", "baseline": "middle", "fontSize": 12, "color": "#444"},
         "encoding": {"x": {"datum": 0.0298, "type": "quantitative", "scale": {"type": "log", "domain": [0.001, 1000000], "nice": false}, "axis": null}, "y": {"datum": 0.727, "type": "quantitative", "scale": {"domain": [0, 1.5], "nice": false, "zero": false}, "axis": null}, "text": {"field": "series"}}},
        {"data": {"values": [{"series": "Tensile strength"}]},
         "mark": {"type": "text", "align": "left", "baseline": "middle", "fontSize": 12, "color": "#444"},
         "encoding": {"x": {"datum": 0.0298, "type": "quantitative", "scale": {"type": "log", "domain": [0.001, 1000000], "nice": false}, "axis": null}, "y": {"datum": 0.630, "type": "quantitative", "scale": {"domain": [0, 1.5], "nice": false, "zero": false}, "axis": null}, "text": {"field": "series"}}},
        {"data": {"values": [{"series": "Viscosity of the solubilized collagen"}]},
         "mark": {"type": "text", "align": "left", "baseline": "middle", "fontSize": 12, "color": "#444"},
         "encoding": {"x": {"datum": 0.0298, "type": "quantitative", "scale": {"type": "log", "domain": [0.001, 1000000], "nice": false}, "axis": null}, "y": {"datum": 0.530, "type": "quantitative", "scale": {"domain": [0, 1.5], "nice": false, "zero": false}, "axis": null}, "text": {"field": "series"}}},
        {"data": {"values": [{"series": "Fusion temperature of collagen"}]},
         "mark": {"type": "text", "align": "left", "baseline": "middle", "fontSize": 12, "color": "#444"},
         "encoding": {"x": {"datum": 0.0298, "type": "quantitative", "scale": {"type": "log", "domain": [0.001, 1000000], "nice": false}, "axis": null}, "y": {"datum": 0.430, "type": "quantitative", "scale": {"domain": [0, 1.5], "nice": false, "zero": false}, "axis": null}, "text": {"field": "series"}}},
        {"data": {"name": "bands"},
         "mark": {"type": "text", "angle": 270, "align": "left", "baseline": "middle", "fontSize": 14, "fontWeight": "bold", "color": "#1b3b8a"},
         "encoding": {
           "x": {"field": "center", "type": "quantitative", "scale": {"type": "log", "domain": [0.001, 1000000], "nice": false},
             "axis": {"orient": "bottom", "zindex": 1, "values": [0.001, 1, 1000, 1000000], "labelExpr": "datum.value == 0.001 ? '(1 mGy)' : datum.value == 1 ? '(1 Gy)' : datum.value == 1000 ? '(1 kGy)' : '(1 MGy)'", "title": null, "domain": false, "ticks": false, "tickSize": 0, "grid": false, "labelFontSize": 16, "labelFontWeight": "bold", "labelFontStyle": "italic", "labelColor": "#111", "labelPadding": 31, "labelOffset": 12, "labelFlush": false, "labelOverlap": false}},
           "y": {"datum": 0.035, "type": "quantitative", "scale": {"domain": [0, 1.5], "nice": false, "zero": false}, "axis": null},
           "text": {"field": "zone"}}}
      ],
      "resolve": {"axis": {"x": "independent", "y": "independent"}}
    },
    {
      "spacing": 0,
      "resolve": {"scale": {"color": "independent", "fill": "independent", "shape": "independent", "strokeDash": "independent"}, "legend": {"color": "independent", "fill": "independent", "shape": "independent", "strokeDash": "independent"}},
      "vconcat": [
        {"width": 10, "height": 390, "data": {"values": [{"t": ""}]}, "mark": "text", "encoding": {"text": {"field": "t"}}},
        {
          "width": 238, "height": 163,
          "layer": [
            {"data": {"values": [{"panel": "frame"}]}, "mark": {"type": "rect", "fill": "#ebebed"},
             "encoding": {"x": {"datum": 0.000322, "type": "quantitative", "scale": {"type": "log", "domain": [0.001, 1000000], "nice": false}, "axis": null}, "x2": {"datum": 3100000}, "y": {"datum": -0.266, "type": "quantitative", "scale": {"domain": [0, 1.4], "nice": false, "zero": false}, "axis": null}, "y2": {"datum": 1.632}}},
            {"data": {"values": [{"panel": "plot"}]}, "mark": {"type": "rect", "fill": "white", "stroke": "#aaa", "strokeWidth": 0.5},
             "encoding": {"x": {"datum": 0.001, "type": "quantitative", "scale": {"type": "log", "domain": [0.001, 1000000], "nice": false},
               "axis": {"orient": "bottom", "zindex": 1, "values": [0.001, 0.01, 0.1, 1, 10, 100, 1000, 10000, 100000, 1000000], "labelExpr": "datum.value == 0.001 ? '0,001' : datum.value == 0.01 ? '0,01' : datum.value == 0.1 ? '0,1' : format(datum.value, 'd')", "title": null, "grid": false, "domainColor": "#888", "domainWidth": 1, "tickSize": 2, "tickColor": "#888", "labelFontSize": 4, "labelColor": "#666", "labelPadding": 2, "labelFlush": false, "labelOverlap": false}},
               "x2": {"datum": 1000000},
               "y": {"datum": 0, "type": "quantitative", "scale": {"domain": [0, 1.4], "nice": false, "zero": false},
               "axis": {"orient": "left", "zindex": 1, "values": [0, 0.2, 0.4, 0.6, 0.8, 1, 1.2, 1.4], "labelExpr": "replace(format(datum.value, '~g'), '.', ',')", "title": null, "grid": true, "gridColor": "#999", "gridWidth": 0.8, "domainColor": "#999", "tickSize": 2, "tickColor": "#999", "labelFontSize": 4.5, "labelColor": "#666", "labelPadding": 2}},
               "y2": {"datum": 1.4}}},
            {"data": {"name": "bands"}, "mark": {"type": "rect", "fill": {"gradient": "linear", "x1": 0, "y1": 0, "x2": 1, "y2": 0, "stops": [{"offset": 0, "color": "#ffffff"}, {"offset": 0.3, "color": "#a9d3fa"}, {"offset": 0.7, "color": "#a9d3fa"}, {"offset": 1, "color": "#ffffff"}]}},
             "encoding": {"x": {"field": "from", "type": "quantitative", "scale": {"type": "log", "domain": [0.001, 1000000], "nice": false}, "axis": null}, "x2": {"field": "to"}, "y": {"datum": 0, "type": "quantitative", "scale": {"domain": [0, 1.4], "nice": false, "zero": false}, "axis": null}, "y2": {"datum": 1.4}}},
            {"data": {"name": "texLines"}, "mark": {"type": "line", "strokeWidth": 1, "color": "#444"},
             "encoding": {"x": {"field": "dose", "type": "quantitative", "scale": {"type": "log", "domain": [0.001, 1000000], "nice": false},
               "axis": {"orient": "top", "zindex": 1, "labels": false, "ticks": false, "domain": false, "grid": false, "title": "Textile rupture charge (relative to non irradiated value)", "titleAnchor": "start", "titleAlign": "left", "titleFontSize": 6.5, "titleFontWeight": "normal", "titleColor": "#333", "titlePadding": 3}},
               "y": {"field": "value", "type": "quantitative", "scale": {"domain": [0, 1.4], "nice": false, "zero": false}, "axis": null}, "detail": {"field": "series", "type": "nominal"}}},
            {"data": {"name": "texPoints"}, "mark": {"type": "point", "size": 7, "stroke": "#555", "strokeWidth": 0.6, "filled": false},
             "encoding": {"x": {"field": "dose", "type": "quantitative", "scale": {"type": "log", "domain": [0.001, 1000000], "nice": false}, "axis": null}, "y": {"field": "value", "type": "quantitative", "scale": {"domain": [0, 1.4], "nice": false, "zero": false}, "axis": null},
               "shape": {"field": "series", "type": "nominal", "scale": {"domain": ["Cotton", "Linen", "Silk", "Wool"], "range": ["square", "triangle-up", "diamond", "circle"]},
                 "legend": {"title": null, "orient": "none", "zindex": 1, "legendX": 15, "legendY": 8, "fillColor": "white", "strokeColor": "#888", "padding": 2, "rowPadding": 1, "labelFontSize": 3.5, "labelColor": "#555", "symbolSize": 5, "symbolStrokeColor": "#555"}}}},
            {"data": {"name": "bands"}, "mark": {"type": "text", "angle": 270, "align": "left", "baseline": "middle", "fontSize": 4, "color": "#1b3b8a"},
             "encoding": {"x": {"field": "center", "type": "quantitative", "scale": {"type": "log", "domain": [0.001, 1000000], "nice": false},
               "axis": {"orient": "bottom", "zindex": 1, "values": [0.001, 1, 1000, 1000000], "labelExpr": "datum.value == 0.001 ? '(1 mGy)' : datum.value == 1 ? '(1 Gy)' : datum.value == 1000 ? '(1 kGy)' : '(1 MGy)'", "title": null, "domain": false, "ticks": false, "tickSize": 0, "grid": false, "labelFontSize": 5.5, "labelFontWeight": "bold", "labelFontStyle": "italic", "labelColor": "#222", "labelPadding": 8, "labelOffset": 3, "labelFlush": false, "labelOverlap": false}},
               "y": {"datum": 0.03, "type": "quantitative", "scale": {"domain": [0, 1.4], "nice": false, "zero": false}, "axis": null}, "text": {"field": "zone"}}}
          ],
          "resolve": {"axis": {"x": "independent", "y": "independent"}}
        }
      ]
    }
  ]
}
